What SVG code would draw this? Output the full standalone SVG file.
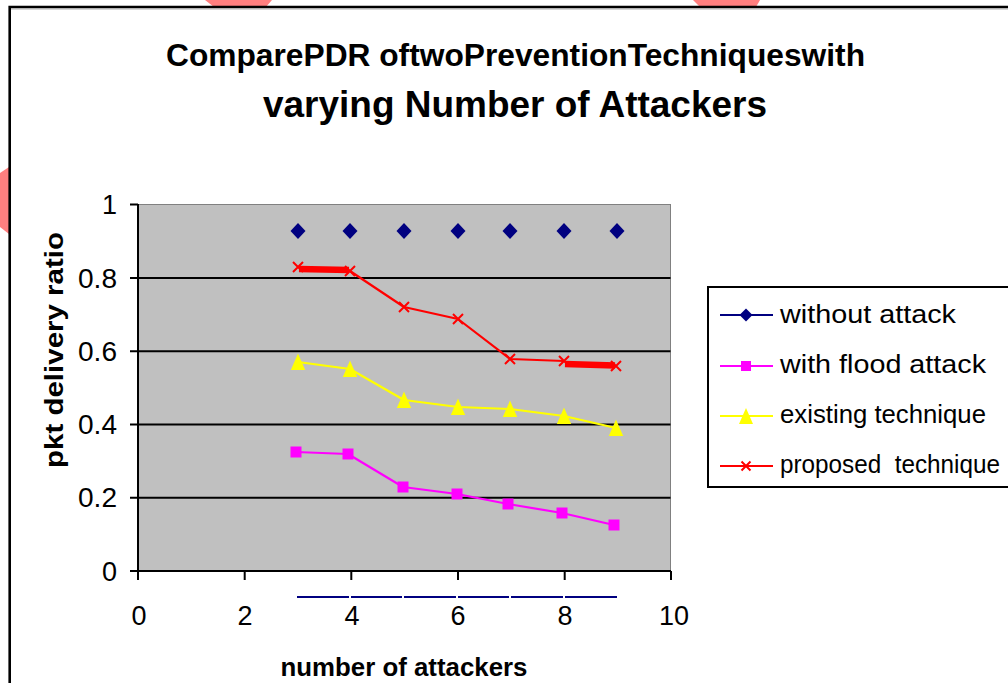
<svg xmlns="http://www.w3.org/2000/svg" width="1008" height="683" viewBox="0 0 1008 683">
  <style>
    text { font-family: "Liberation Sans", Arial, sans-serif; fill: #000; stroke: none; }
    .title { font-weight: bold; }
    .axis-title { font-weight: bold; font-size: 25px; }
    .tick { font-size: 27px; }
    .ytick { text-anchor: end; }
    .xtick { text-anchor: middle; }
    .legend-text { font-size: 25px; }
    .grid { stroke: #000; stroke-width: 2; }
    .axis { stroke: #000; stroke-width: 2; fill: none; }
    .s-blue { stroke: #000080; fill: #000080; }
    .s-mag { stroke: #FF00FF; fill: #FF00FF; }
    .s-yel { stroke: #FFFF00; fill: #FFFF00; }
    .s-red { stroke: #FF0000; fill: #FF0000; }
    .line { fill: none; stroke-width: 2.2; stroke-linejoin: round; }
    .mark { stroke: none; }
    .wm { fill: #FF7F7F; }
  </style>
  <defs>
    <path id="m-diamond" d="M0,-8 L7.5,0 L0,8 L-7.5,0Z"/>
    <rect id="m-square" x="-5.5" y="-5.5" width="11" height="11"/>
    <path id="m-triangle" d="M0,-8.5 L7.2,8 L-7.2,8Z"/>
    <path id="m-cross" d="M-5,-5 L5,5 M-5,5 L5,-5" fill="none" stroke-width="2"/>
  </defs>

  <rect width="1008" height="683" fill="#fff"/>

  <!-- faint red stamp fragments along the edges -->
  <g id="stamp">
    <polygon class="wm" points="205,0 272,0 266,7 214,7"/>
    <polygon class="wm" points="693,0 760,0 756,7 700,7"/>
    <polygon class="wm" points="0,173 9,167 9,234 0,227"/>
  </g>

  <!-- chart frame -->
  <g id="frame">
    <path d="M9.7,683 L9.7,7 L1008,7" fill="none" stroke="#000" stroke-width="2.6"/>
    <line x1="11" y1="9" x2="1008" y2="9" stroke="#999" stroke-width="0.8"/>
  </g>

  <!-- title -->
  <g id="title">
    <text class="title" x="166" y="66" font-size="32" textLength="699" lengthAdjust="spacingAndGlyphs">ComparePDR oftwoPreventionTechniqueswith</text>
    <text class="title" x="263" y="117" font-size="37" textLength="504" lengthAdjust="spacingAndGlyphs">varying Number of Attackers</text>
  </g>

  <!-- plot area with gridlines -->
  <g id="plot-area">
    <rect x="138" y="204.5" width="532.5" height="366.5" fill="#C0C0C0" stroke="#808080" stroke-width="1"/>
    <line class="grid" x1="138" y1="497.7" x2="670.5" y2="497.7"/>
    <line class="grid" x1="138" y1="424.4" x2="670.5" y2="424.4"/>
    <line class="grid" x1="138" y1="351.3" x2="670.5" y2="351.3"/>
    <line class="grid" x1="138" y1="278" x2="670.5" y2="278"/>
  </g>

  <!-- axes, ticks and tick labels -->
  <g id="y-axis">
    <line class="axis" x1="138" y1="204" x2="138" y2="572"/>
    <path class="axis" d="M130,204.5 H138 M130,278 H138 M130,351.3 H138 M130,424.4 H138 M130,497.7 H138 M130,571 H138"/>
    <text class="tick ytick" x="117" y="214">1</text>
    <text class="tick ytick" x="117" y="288" textLength="39" lengthAdjust="spacingAndGlyphs">0.8</text>
    <text class="tick ytick" x="117" y="361" textLength="39" lengthAdjust="spacingAndGlyphs">0.6</text>
    <text class="tick ytick" x="117" y="434" textLength="39" lengthAdjust="spacingAndGlyphs">0.4</text>
    <text class="tick ytick" x="117" y="507" textLength="39" lengthAdjust="spacingAndGlyphs">0.2</text>
    <text class="tick ytick" x="117" y="581">0</text>
    <text class="axis-title" transform="translate(63,350) rotate(-90)" text-anchor="middle" textLength="236" lengthAdjust="spacingAndGlyphs">pkt delivery ratio</text>
  </g>

  <g id="x-axis">
    <line class="axis" x1="137" y1="571" x2="671" y2="571"/>
    <path class="axis" d="M138,571 V580 M244.7,571 V580 M351.3,571 V580 M458,571 V580 M564.7,571 V580 M671,571 V580"/>
    <text class="tick xtick" x="139" y="625">0</text>
    <text class="tick xtick" x="245" y="625">2</text>
    <text class="tick xtick" x="352" y="625">4</text>
    <text class="tick xtick" x="458" y="625">6</text>
    <text class="tick xtick" x="565" y="625">8</text>
    <text class="tick xtick" x="674" y="625">10</text>
    <text class="axis-title" x="404" y="676" text-anchor="middle" textLength="247" lengthAdjust="spacingAndGlyphs">number of attackers</text>
  </g>

  <!-- data series -->
  <g id="series">
    <g id="without-attack" class="s-blue">
      <path d="M297,597 H349 M351,597 H402 M404,597 H456 M458,597 H509 M511,597 H563 M565,597 H617" fill="none" stroke-width="2"/>
      <use href="#m-diamond" class="mark" x="298" y="231"/>
      <use href="#m-diamond" class="mark" x="350" y="231"/>
      <use href="#m-diamond" class="mark" x="404" y="231"/>
      <use href="#m-diamond" class="mark" x="458" y="231"/>
      <use href="#m-diamond" class="mark" x="510" y="231"/>
      <use href="#m-diamond" class="mark" x="564" y="231"/>
      <use href="#m-diamond" class="mark" x="617" y="231"/>
    </g>
    <g id="with-flood-attack" class="s-mag">
      <polyline class="line" points="296,452 348,454 403,487 457,494 508,504 562,513 614,525"/>
      <use href="#m-square" class="mark" x="296" y="452"/>
      <use href="#m-square" class="mark" x="348" y="454"/>
      <use href="#m-square" class="mark" x="403" y="487"/>
      <use href="#m-square" class="mark" x="457" y="494"/>
      <use href="#m-square" class="mark" x="508" y="504"/>
      <use href="#m-square" class="mark" x="562" y="513"/>
      <use href="#m-square" class="mark" x="614" y="525"/>
    </g>
    <g id="existing-technique" class="s-yel">
      <polyline class="line" points="298,362 350,369 404,400 458,407 510,409 564,416 616,428"/>
      <use href="#m-triangle" class="mark" x="298" y="362"/>
      <use href="#m-triangle" class="mark" x="350" y="369"/>
      <use href="#m-triangle" class="mark" x="404" y="400"/>
      <use href="#m-triangle" class="mark" x="458" y="407"/>
      <use href="#m-triangle" class="mark" x="510" y="409"/>
      <use href="#m-triangle" class="mark" x="564" y="416"/>
      <use href="#m-triangle" class="mark" x="616" y="428"/>
    </g>
    <g id="proposed-technique" class="s-red">
      <polyline class="line" points="350,271 404,307 458,319 510,359 564,361"/>
      <line x1="299" y1="269" x2="349" y2="270" stroke-width="6.5"/>
      <line x1="565" y1="364" x2="615" y2="365.5" stroke-width="6.5"/>
      <use href="#m-cross" x="298" y="267"/>
      <use href="#m-cross" x="350" y="271"/>
      <use href="#m-cross" x="404" y="307"/>
      <use href="#m-cross" x="458" y="319"/>
      <use href="#m-cross" x="510" y="359"/>
      <use href="#m-cross" x="564" y="361"/>
      <use href="#m-cross" x="616" y="366"/>
    </g>
  </g>

  <!-- legend -->
  <g id="legend">
    <rect x="708" y="287" width="310" height="200" fill="#fff" stroke="#000" stroke-width="2"/>
    <g id="legend-without-attack">
      <line x1="720" y1="315" x2="773" y2="315" stroke="#000080" stroke-width="2"/>
      <path fill="#000080" d="M746,308.5 L752.5,315 L746,321.5 L739.5,315Z"/>
      <text class="legend-text" x="780" y="323" textLength="176" lengthAdjust="spacingAndGlyphs">without attack</text>
    </g>
    <g id="legend-with-flood-attack">
      <line x1="720" y1="366" x2="773" y2="366" stroke="#FF00FF" stroke-width="2"/>
      <rect fill="#FF00FF" x="741" y="361" width="10" height="10"/>
      <text class="legend-text" x="780" y="373" textLength="206" lengthAdjust="spacingAndGlyphs">with flood attack</text>
    </g>
    <g id="legend-existing-technique">
      <line x1="720" y1="416" x2="773" y2="416" stroke="#FFFF00" stroke-width="2"/>
      <path fill="#FFFF00" d="M746,408 L753,424 L739,424Z"/>
      <text class="legend-text" x="780" y="423" textLength="206" lengthAdjust="spacingAndGlyphs">existing technique</text>
    </g>
    <g id="legend-proposed-technique">
      <line x1="720" y1="466" x2="773" y2="466" stroke="#FF0000" stroke-width="2"/>
      <path d="M741.5,461.5 L750.5,470.5 M741.5,470.5 L750.5,461.5" fill="none" stroke="#FF0000" stroke-width="2"/>
      <text class="legend-text" x="780" y="473" textLength="220" lengthAdjust="spacingAndGlyphs" xml:space="preserve">proposed  technique</text>
    </g>
  </g>
</svg>
